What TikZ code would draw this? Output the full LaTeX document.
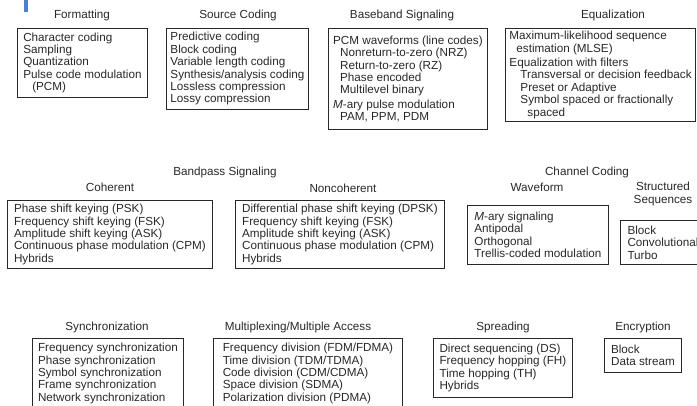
\documentclass[tikz,border=0pt]{standalone}
\usepackage{fontspec}
\setmainfont{Liberation Sans}
\definecolor{markblue}{RGB}{72,128,214}
\definecolor{inkgray}{RGB}{40,40,40}

\begin{document}
\begin{tikzpicture}[x=1pt,y=-1pt]
\tikzstyle{every node}=[font=\fontsize{11.7}{12.4}\selectfont, text=inkgray];
\tikzstyle{box}=[draw=inkgray, line width=0.9pt, anchor=north west, align=left, inner xsep=4pt, inner ysep=2pt];
\tikzstyle{head}=[align=center, inner sep=0pt];
\useasboundingbox (0,0) rectangle (697,405);
\clip (0,0) rectangle (697,405);
\fill[markblue] (24,0) rectangle (28,12);
% top row
\node (FT) [head] at (82,15) {Formatting};
\node (F) [box, minimum width=130, minimum height=69] at (17,28) {Character coding\\
Sampling\\
Quantization\\
Pulse code modulation\\
\hspace*{9pt}(PCM)};
\node (SCT) [head] at (238,15) {Source Coding};
\node (SC) [box, minimum width=141, minimum height=81] at (166,28) {Predictive coding\\
Block coding\\
Variable length coding\\
Synthesis/analysis coding\\
Lossless compression\\
Lossy compression};
\node (BST) [head] at (402,15) {Baseband Signaling};
\node (BS) [box, minimum width=159, minimum height=101] at (328,28) {PCM waveforms (line codes)\\
\hspace*{7pt}Nonreturn-to-zero (NRZ)\\
\hspace*{7pt}Return-to-zero (RZ)\\
\hspace*{7pt}Phase encoded\\
\hspace*{7pt}Multilevel binary\\[2pt]
\textit{M}-ary pulse modulation\\
\hspace*{7pt}PAM, PPM, PDM};
\node (EQT) [head] at (613,15) {Equalization};
\node (EQ) [box, minimum width=190, minimum height=93] at (505,28) {Maximum-likelihood sequence\\
\hspace*{7pt}estimation (MLSE)\\[2pt]
Equalization with filters\\
\hspace*{11pt}Transversal or decision feedback\\
\hspace*{11pt}Preset or Adaptive\\
\hspace*{11pt}Symbol spaced or fractionally\\
\hspace*{18pt}spaced};
% middle row
\node (BPT) [head] at (225,172) {Bandpass Signaling};
\node (COT) [head] at (110,187) {Coherent};
\node (CO) [box, minimum width=205, minimum height=68] at (7,200) {Phase shift keying (PSK)\\
Frequency shift keying (FSK)\\
Amplitude shift keying (ASK)\\
Continuous phase modulation (CPM)\\
Hybrids};
\node (NCT) [head] at (343,188) {Noncoherent};
\node (NC) [box, minimum width=209, minimum height=68] at (235,200) {Differential phase shift keying (DPSK)\\
Frequency shift keying (FSK)\\
Amplitude shift keying (ASK)\\
Continuous phase modulation (CPM)\\
Hybrids};
\node (CCT) [head] at (587,172) {Channel Coding};
\node (WFT) [head] at (537,187) {Waveform};
\node (WF) [box, minimum width=141, minimum height=59] at (467,205) {\textit{M}-ary signaling\\
Antipodal\\
Orthogonal\\
Trellis-coded modulation};
\node (SST) [head] at (663,194) {Structured\\Sequences};
\node (SS) [box, minimum width=85, minimum height=44] at (620,220) {Block\\
Convolutional\\
Turbo};
% bottom row
\node (SYT) [head] at (107,327) {Synchronization};
\node (SY) [box, minimum width=151, minimum height=70] at (32,338) {Frequency synchronization\\
Phase synchronization\\
Symbol synchronization\\
Frame synchronization\\
Network synchronization};
\node (MXT) [head] at (298,327) {Multiplexing/Multiple Access};
\node (MX) [box, minimum width=189, minimum height=70] at (213,338) {Frequency division (FDM/FDMA)\\
Time division (TDM/TDMA)\\
Code division (CDM/CDMA)\\
Space division (SDMA)\\
Polarization division (PDMA)};
\node (SPT) [head] at (503,327) {Spreading};
\node (SP) [box, minimum width=139, minimum height=59] at (433,338) {Direct sequencing (DS)\\
Frequency hopping (FH)\\
Time hopping (TH)\\
Hybrids};
\node (ENT) [head] at (643,327) {Encryption};
\node (EN) [box, minimum width=77, minimum height=34] at (604,338) {Block\\
Data stream};
\end{tikzpicture}
\end{document}
